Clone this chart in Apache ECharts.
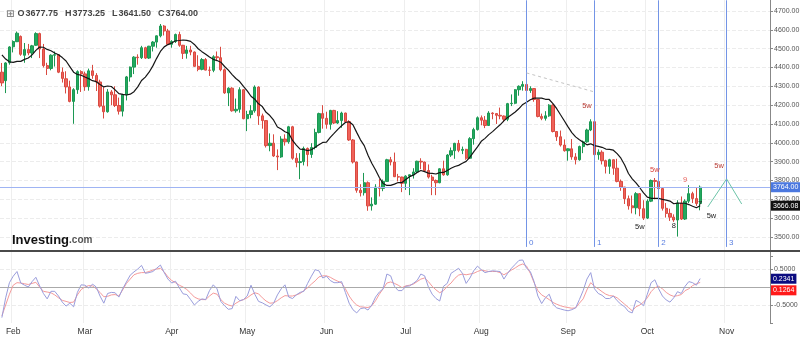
<!DOCTYPE html>
<html><head><meta charset="utf-8">
<script src="https://cdn.jsdelivr.net/npm/echarts@6/dist/echarts.min.js"></script>
<style>html,body{margin:0;padding:0;background:#fff}#c{width:800px;height:338px}</style>
</head><body><div id="c"></div>
<script>
// ---- data (daily bars, MM-DD) ----
const dates = ['01-27','01-28','01-31',
'02-01','02-02','02-03','02-04','02-07','02-08','02-09','02-10','02-11','02-14','02-15','02-16','02-17','02-18','02-22','02-23','02-24','02-25','02-28',
'03-01','03-02','03-03','03-04','03-07','03-08','03-09','03-10','03-11','03-14','03-15','03-16','03-17','03-18','03-21','03-22','03-23','03-24','03-25','03-28','03-29','03-30','03-31',
'04-01','04-04','04-05','04-06','04-07','04-08','04-11','04-12','04-13','04-14','04-18','04-19','04-20','04-21','04-22','04-25','04-26','04-27','04-28','04-29',
'05-02','05-03','05-04','05-05','05-06','05-09','05-10','05-11','05-12','05-13','05-16','05-17','05-18','05-19','05-20','05-23','05-24','05-25','05-26','05-27','05-31',
'06-01','06-02','06-03','06-06','06-07','06-08','06-09','06-10','06-13','06-14','06-15','06-16','06-17','06-21','06-22','06-23','06-24','06-27','06-28','06-29','06-30',
'07-01','07-05','07-06','07-07','07-08','07-11','07-12','07-13','07-14','07-15','07-18','07-19','07-20','07-21','07-22','07-25','07-26','07-27','07-28','07-29',
'08-01','08-02','08-03','08-04','08-05','08-08','08-09','08-10','08-11','08-12','08-15','08-16','08-17','08-18','08-19','08-22','08-23','08-24','08-25','08-26','08-29','08-30','08-31',
'09-01','09-02','09-06','09-07','09-08','09-09','09-12','09-13','09-14','09-15','09-16','09-19','09-20','09-21','09-22','09-23','09-26','09-27','09-28','09-29','09-30',
'10-03','10-04','10-05','10-06','10-07','10-10','10-11','10-12','10-13','10-14','10-17','10-18','10-19','10-20','10-21'];
const futureDates = ['10-24','10-25','10-26','10-27','10-28','10-31','11-01','11-02','11-03','11-04','11-07','11-08','11-09','11-10','11-11','11-14','11-15','11-16'];

const opens = [4375,4330,4425,4510,4537,4565,4465,4495,4477,4518,
4580,4498,4410,4395,4465,4468,4375,4340,4297,4220,
4282,4378,4366,4298,4382,4358,4323,4195,4165,4270,
4255,4198,4168,4255,4350,4402,4455,4452,4505,4450,
4513,4535,4568,4620,4594,4523,4538,4575,4518,4475,
4493,4482,4406,4390,4442,4386,4385,4457,4452,4388,
4265,4290,4170,4178,4282,4128,4150,4170,4296,4143,
4118,3985,3998,3930,3925,4020,4005,4085,3918,3895,
3900,3970,3938,3975,4055,4155,4130,4098,4172,4105,
4118,4158,4112,4015,3898,3748,3735,3788,3665,3674,
3765,3758,3795,3910,3898,3820,3818,3785,3823,3830,
3845,3902,3898,3853,3818,3800,3788,3862,3830,3935,
3958,3997,3960,3965,3918,4022,4070,4133,4120,4092,
4158,4155,4146,4142,4125,4208,4210,4282,4300,4310,
4278,4288,4230,4140,4130,4143,4200,4060,4032,3988,
3958,3968,3925,3910,3980,4005,4068,4112,3937,3950,
3905,3875,3910,3865,3795,3765,3703,3665,3655,3730,
3650,3600,3690,3800,3795,3757,3652,3625,3605,3590,
3680,3595,3690,3730,3703.8,3677.75];
const highs = [4424,4428,4513,4544,4591,4570,4530,4525,4520,4587,
4585,4525,4425,4470,4485,4470,4400,4380,4330,4290,
4385,4385,4378,4394,4414,4370,4335,4295,4285,4280,
4300,4240,4260,4355,4405,4460,4470,4515,4510,4515,
4540,4570,4631,4625,4605,4545,4580,4590,4520,4515,
4515,4485,4465,4450,4450,4405,4465,4485,4510,4395,
4295,4295,4235,4295,4285,4170,4200,4305,4300,4155,
4120,4050,4045,3965,4035,4045,4090,4090,3945,3945,
3980,3975,3998,4075,4160,4200,4165,4175,4175,4168,
4165,4160,4120,4020,3900,3780,3840,3795,3710,3780,
3808,3805,3915,3925,3948,3835,3820,3828,3832,3865,
3905,3918,3900,3885,3830,3805,3865,3905,3940,3975,
4000,4015,3980,3968,4030,4080,4140,4145,4142,4168,
4162,4158,4187,4145,4212,4257,4285,4305,4327,4312,
4300,4290,4232,4155,4168,4205,4205,4062,4065,4018,
3970,4020,3945,3985,4012,4075,4125,4140,3965,3960,
3910,3915,3912,3915,3805,3765,3720,3720,3738,3732,
3695,3700,3805,3813,3810,3762,3680,3650,3620,3695,
3715,3700,3775,3740,3760,3773.25];
const lows = [4301,4264,4415,4480,4535,4462,4425,4465,4450,4515,
4450,4400,4360,4385,4405,4370,4320,4262,4215,4101,
4260,4270,4276,4277,4340,4275,4187,4129,4160,4200,
4190,4150,4140,4225,4325,4365,4415,4445,4445,4445,
4485,4505,4560,4570,4520,4505,4530,4510,4445,4447,
4465,4405,4380,4385,4385,4355,4375,4440,4380,4260,
4195,4165,4160,4160,4125,4062,4130,4160,4095,4075,
3975,3955,3925,3855,3920,3985,3995,3910,3870,3807,
3880,3875,3920,3965,4050,4075,4075,4070,4100,4100,
4080,4105,4010,3890,3735,3715,3720,3639,3640,3670,
3715,3743,3795,3880,3818,3795,3738,3750,3722,3810,
3840,3860,3845,3810,3722,3722,3785,3825,3825,3925,
3915,3950,3940,3910,3915,3990,4065,4093,4078,4090,
4125,4100,4125,4110,4115,4195,4205,4250,4277,4242,
4265,4218,4135,4120,4118,4138,4055,4010,3980,3953,
3905,3910,3885,3905,3945,4000,4062,3925,3910,3885,
3837,3835,3830,3790,3745,3675,3645,3625,3620,3610,
3590,3595,3685,3700,3745,3640,3603,3585,3580,3502,
3590,3590,3680,3680,3665,3641.5];
const closes = [4318,4424,4509,4538,4582,4470,4495,4477,4515,4580,
4498,4410,4395,4465,4468,4375,4342,4297,4220,4282,
4378,4366,4298,4382,4358,4323,4195,4165,4270,4255,
4198,4168,4255,4350,4402,4455,4452,4505,4450,4513,
4535,4568,4620,4594,4523,4538,4575,4518,4475,4493,
4482,4406,4390,4442,4386,4385,4457,4452,4388,4265,
4290,4170,4178,4282,4128,4150,4170,4296,4143,4118,
3985,3998,3930,3925,4020,4005,4085,3918,3895,3900,
3970,3938,3975,4055,4155,4130,4098,4172,4105,4118,
4158,4112,4015,3898,3748,3735,3788,3665,3674,3765,
3758,3795,3910,3898,3820,3818,3785,3823,3830,3845,
3902,3898,3853,3818,3800,3788,3862,3830,3935,3958,
3997,3960,3965,3918,4022,4070,4133,4120,4092,4158,
4155,4146,4142,4125,4208,4210,4282,4300,4310,4278,
4288,4230,4140,4130,4143,4200,4060,4032,3988,3958,
3968,3925,3910,3980,4005,4068,4112,3937,3950,3905,
3875,3910,3865,3795,3765,3703,3665,3655,3730,3650,
3600,3690,3800,3795,3757,3652,3625,3605,3590,3680,
3595,3690,3730,3703.8,3678,3764];
// closes of the 9 sessions before the first visible bar (feed the 10-day average)
const leadCloses = [4650,4655,4570,4525,4470,4390,4405,4350,4340];

const oscBlue = [-0.85,-0.30,0.12,0.30,0.43,0.11,0.05,0.00,0.15,0.27,
0.03,-0.18,-0.33,-0.12,-0.12,-0.25,-0.42,-0.53,-0.45,-0.55,
-0.15,0.06,0.05,-0.03,0.08,0.00,-0.25,-0.45,-0.18,-0.15,
-0.16,-0.28,-0.05,0.14,0.33,0.42,0.50,0.60,0.38,0.40,
0.43,0.52,0.61,0.40,0.22,0.11,0.16,-0.02,-0.19,-0.21,
-0.35,-0.50,-0.40,-0.33,-0.35,-0.10,0.06,-0.05,-0.40,-0.52,
-0.62,-0.60,-0.26,-0.38,-0.35,-0.25,0.05,-0.20,-0.40,-0.44,
-0.50,-0.55,-0.45,-0.22,-0.05,0.06,-0.28,-0.32,-0.22,-0.15,
-0.12,0.10,0.30,0.48,0.45,0.25,0.30,0.18,0.12,0.12,
0.15,-0.15,-0.45,-0.63,-0.72,-0.60,-0.58,-0.64,-0.50,-0.28,
-0.14,-0.05,0.36,0.31,0.02,-0.10,-0.10,0.02,0.03,0.10,
0.18,0.36,0.31,0.00,-0.20,-0.32,-0.39,0.02,0.10,0.38,
0.45,0.52,0.38,0.10,0.25,0.45,0.58,0.48,0.40,0.43,
0.45,0.44,0.43,0.22,0.38,0.52,0.63,0.74,0.75,0.52,
0.43,0.15,-0.25,-0.46,-0.30,-0.20,-0.48,-0.58,-0.61,-0.64,
-0.66,-0.63,-0.58,-0.35,-0.10,0.22,0.40,-0.05,-0.18,-0.23,
-0.32,-0.32,-0.25,-0.38,-0.48,-0.55,-0.68,-0.72,-0.37,-0.43,
-0.52,-0.20,0.12,0.20,-0.05,-0.25,-0.36,-0.42,-0.30,-0.13,
-0.18,0.02,0.15,0.12,0.05,0.2341];
const oscRed = [-0.80,-0.50,-0.20,0.05,0.12,0.11,0.09,0.07,0.10,0.13,
0.00,-0.12,-0.14,-0.16,-0.22,-0.30,-0.37,-0.40,-0.43,-0.42,
-0.22,-0.07,0.00,0.04,0.03,-0.05,-0.15,-0.27,-0.26,-0.22,
-0.21,-0.25,-0.08,0.10,0.22,0.34,0.38,0.40,0.40,0.43,
0.47,0.50,0.52,0.42,0.28,0.18,0.12,0.05,0.00,-0.07,
-0.17,-0.28,-0.33,-0.35,-0.35,-0.25,-0.17,-0.20,-0.35,-0.45,
-0.50,-0.53,-0.45,-0.39,-0.35,-0.30,-0.22,-0.16,-0.19,-0.30,
-0.39,-0.45,-0.44,-0.38,-0.30,-0.24,-0.25,-0.25,-0.22,-0.18,
-0.10,-0.02,0.08,0.17,0.28,0.31,0.31,0.27,0.21,0.16,
0.11,-0.05,-0.25,-0.40,-0.50,-0.55,-0.56,-0.57,-0.52,-0.38,
-0.20,-0.05,0.11,0.14,0.10,0.05,-0.02,0.03,0.05,0.08,
0.15,0.22,0.25,0.15,0.02,-0.08,-0.16,-0.10,0.02,0.11,
0.24,0.33,0.36,0.34,0.36,0.38,0.43,0.47,0.45,0.43,
0.43,0.43,0.40,0.34,0.40,0.47,0.53,0.60,0.64,0.58,
0.38,0.12,-0.10,-0.22,-0.28,-0.35,-0.43,-0.48,-0.52,-0.55,
-0.57,-0.59,-0.58,-0.45,-0.33,-0.08,0.12,0.02,-0.05,-0.13,
-0.20,-0.24,-0.25,-0.30,-0.39,-0.48,-0.57,-0.66,-0.55,-0.50,
-0.42,-0.30,-0.13,-0.02,0.02,-0.05,-0.15,-0.22,-0.26,-0.24,
-0.21,-0.10,-0.05,0.04,0.09,0.1264];

const priceTicks = [3500,3600,3700,3800,3900,4000,4100,4200,4300,4400,4500,4600,4700];
const oscTicks = [-0.5,0.5];
const monthNames = ['Jan','Feb','Mar','Apr','May','Jun','Jul','Aug','Sep','Oct','Nov','Dec'];

// cycle (time) lines
const cycleNames = ['0','1','2','3'];
const cycleDates = ['08-17','09-13','10-06','11-01'];
// wave annotations
const waveTexts  = ['5w','5w','5w','8','9','7','5w','5w'];
const waveDates  = ['09-09','10-05','09-29','10-12','10-17','10-21','10-26','10-28'];
const wavePrices = [4195,3856,3553,3558,3802,3675,3611,3877];
// dashed trend segment and projection path
const trendDates = ['08-17','09-13'];
const trendPrices = [4371,4270];
const projDates = ['10-25','11-01','11-07'];
const projPrices = [3659,3808,3675];

// ---- build ----
const categories = dates.concat(futureDates);
const MA_LEN = 10;
const allCloses = leadCloses.concat(closes);
const ma = closes.map((c, i) => {
  let s = 0;
  for (let k = 0; k < MA_LEN; k++) s += allCloses[i + leadCloses.length - k];
  return s / MA_LEN;
});
const last = closes.length - 1;
const isMonthStart = i => i > 0 && categories[i].slice(0,2) !== categories[i-1].slice(0,2);
const FONT = 'Liberation Sans, Arial, sans-serif';
const HIDDEN_LINE = {color: 'rgba(0,0,0,0)', width: 0};

const waveColors = ['#b73a33','#d9423b','#222','#222','#e8605a','#222','#222','#b73a33'];

const boxLabel = (text, bg, dy) => ({
  show: true, position: 'end', distance: 1, offset: [0, dy || 0], formatter: text,
  backgroundColor: bg, color: '#fff', padding: [2,2,1,2], fontSize: 7, fontFamily: FONT
});

const chart = echarts.init(document.getElementById('c'), null, {renderer:'canvas'});
const option = {
  animation: false,
  backgroundColor: '#fff',
  textStyle: {fontFamily: FONT},
  title: [
    {left: 1, top: 4, text:
      '{i|⊞}{k|O}{v|' + opens[last].toFixed(2) + '}{k|H}{v|' + highs[last].toFixed(2) +
      '}{k|L}{v|' + lows[last].toFixed(2) + '}{k|C}{v|' + closes[last].toFixed(2) + '}',
      textStyle: {rich: {
        i: {fontSize: 10, color: '#888', fontFamily: 'DejaVu Sans', padding: [0,3,0,0]},
        k: {fontSize: 9, color: '#444', fontFamily: FONT, padding: [0,1,0,0]},
        v: {fontSize: 9, color: '#444', fontFamily: FONT, padding: [0,7,0,0]}
      }}},
    {left: 7, top: 229, text: '{a|Investing}{b|.com}',
      textStyle: {rich: {
        a: {fontSize: 13, fontWeight: 'bold', color: '#111', fontFamily: FONT},
        b: {fontSize: 10, color: '#555', fontFamily: FONT}
      }}}
  ],
  grid: [
    {left: 0, right: 30, top: -7.83, height: 263.6, outerBoundsMode: 'none'},
    {left: 0, right: 30, top: 251, height: 72, outerBoundsMode: 'none'}
  ],
  xAxis: [
    {type: 'category', gridIndex: 0, data: categories, boundaryGap: true,
      axisLine: {show: false}, axisTick: {show: false}, axisLabel: {show: false},
      splitLine: {show: true, interval: (i) => isMonthStart(i), lineStyle: {color: '#eeeeee', width: 1}}},
    {type: 'category', gridIndex: 1, data: categories, boundaryGap: true,
      axisLine: {show: true, lineStyle: {color: '#aaa', width: 1}}, axisTick: {show: false},
      axisLabel: {interval: (i) => isMonthStart(i), formatter: v => monthNames[parseInt(v.slice(0,2),10)-1],
        fontSize: 8.5, color: '#333', margin: 4, fontFamily: FONT},
      splitLine: {show: true, interval: (i) => isMonthStart(i), lineStyle: {color: '#eeeeee', width: 1}}}
  ],
  yAxis: [
    {type: 'value', gridIndex: 0, position: 'right', min: 3400, max: 4800, interval: 100,
      axisLine: {show: true, lineStyle: {color: '#888'}},
      axisTick: {show: true, length: 3, lineStyle: {color: '#888'}},
      axisLabel: {fontSize: 7, color: '#555', margin: 4, fontFamily: FONT,
        formatter: v => priceTicks.indexOf(v) >= 0 ? v.toFixed(2) : ''},
      splitLine: {show: true, showMinLine: false, showMaxLine: false, lineStyle: {color: '#ececec', type: 'dashed'}}},
    {type: 'value', gridIndex: 1, position: 'right', min: -1, max: 1, interval: 0.5,
      axisLine: {show: true, lineStyle: {color: '#888'}},
      axisTick: {show: true, length: 3, lineStyle: {color: '#888'}},
      axisLabel: {fontSize: 7, color: '#555', margin: 4, fontFamily: FONT,
        formatter: v => oscTicks.indexOf(v) >= 0 ? v.toFixed(4) : ''},
      splitLine: {show: true, showMinLine: false, showMaxLine: false, lineStyle: {color: '#ececec', type: 'dashed'}}}
  ],
  graphic: [
    {type: 'rect', shape: {x: 0, y: 250, width: 800, height: 2}, style: {fill: '#4a4a4a'}, z: 100}
  ],
  series: [
    {
      type: 'candlestick', xAxisIndex: 0, yAxisIndex: 0,
      data: opens.map((o, i) => [o, closes[i], lows[i], highs[i]]),
      barWidth: 2.8,
      itemStyle: {color: '#22a95f', color0: '#f0625a', borderColor: '#1c9853', borderColor0: '#d94a41', borderWidth: 1},
      markLine: {
        silent: true, symbol: ['none','none'], animation: false,
        data: [
          {yAxis: closes[last], lineStyle: {color: '#9fb4f3', width: 1, type: 'solid', opacity: 1},
            label: boxLabel(closes[last].toFixed(2), '#4b78df')},
          ...cycleDates.map(d => [
            {coord: [d, 4757], lineStyle: {color: '#7394e6', width: 1, type: 'solid'}, label: {show: false}},
            {coord: [d, 3447]}
          ]),
          [{coord: [trendDates[0], trendPrices[0]], lineStyle: {color: '#c4c4c4', width: 1, type: [3,3]}, label: {show: false}},
           {coord: [trendDates[1], trendPrices[1]]}],
          [{coord: [projDates[0], projPrices[0]], lineStyle: {color: '#6cc4a8', width: 1, type: 'solid'}, label: {show: false}},
           {coord: [projDates[1], projPrices[1]]}],
          [{coord: [projDates[1], projPrices[1]], lineStyle: {color: '#6cc4a8', width: 1, type: 'solid'}, label: {show: false}},
           {coord: [projDates[2], projPrices[2]]}]
        ]
      },
      markPoint: {
        silent: true, animation: false,
        data: [
          ...waveTexts.map((t, i) => ({
            coord: [waveDates[i], wavePrices[i]], symbol: 'rect', symbolSize: 1,
            itemStyle: {color: 'rgba(0,0,0,0)'},
            label: {show: true, position: 'inside', formatter: t, color: waveColors[i], fontSize: 7.5, fontFamily: FONT}
          })),
          ...cycleNames.map((t, i) => ({
            coord: [cycleDates[i], 3468], symbol: 'rect', symbolSize: 1,
            itemStyle: {color: 'rgba(0,0,0,0)'},
            label: {show: true, position: 'right', distance: 2, formatter: t, color: '#5a7fe0', fontSize: 8, fontFamily: FONT}
          }))
        ]
      }
    },
    {
      type: 'line', xAxisIndex: 0, yAxisIndex: 0, data: ma, showSymbol: false, symbol: 'none',
      lineStyle: {color: '#151515', width: 1.2}, z: 3,
      markLine: {
        silent: true, symbol: ['none','none'], animation: false,
        data: [{yAxis: ma[last], lineStyle: HIDDEN_LINE, label: boxLabel(ma[last].toFixed(2), '#111')}]
      }
    },
    {
      type: 'line', xAxisIndex: 1, yAxisIndex: 1, data: oscRed, showSymbol: false, symbol: 'none',
      lineStyle: {color: '#f59a9a', width: 1},
      markLine: {
        silent: true, symbol: ['none','none'], animation: false,
        data: [
          {yAxis: 0, lineStyle: {color: '#aaaaaa', width: 1, type: [4,3]}, label: {show: false}},
          {yAxis: oscRed[last], lineStyle: HIDDEN_LINE, label: boxLabel(oscRed[last].toFixed(4), '#ff1a1a', 8)}
        ]
      }
    },
    {
      type: 'line', xAxisIndex: 1, yAxisIndex: 1, data: oscBlue, showSymbol: false, symbol: 'none',
      lineStyle: {color: '#9a9ddc', width: 1},
      markLine: {
        silent: true, symbol: ['none','none'], animation: false,
        data: [{yAxis: oscBlue[last], lineStyle: HIDDEN_LINE, label: boxLabel(oscBlue[last].toFixed(4), '#0c0c80')}]
      }
    }
  ]
};
chart.setOption(option);
</script>
</body></html>
